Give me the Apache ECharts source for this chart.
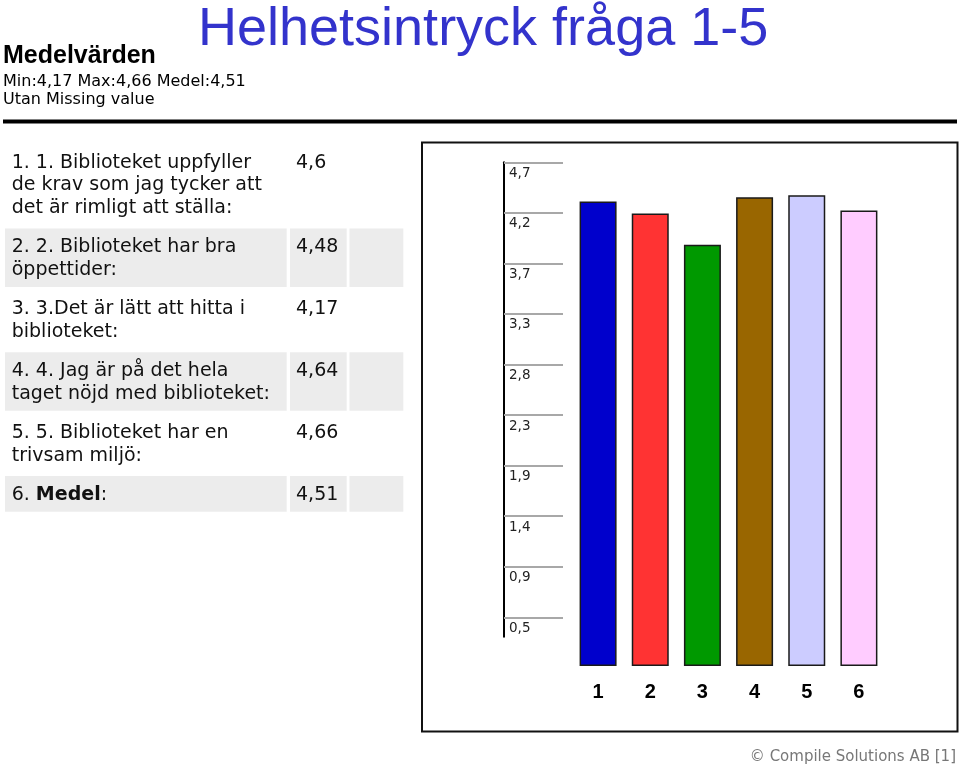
<!DOCTYPE html>
<html><head><meta charset="utf-8">
<script src="https://cdn.jsdelivr.net/npm/echarts@6/dist/echarts.min.js"></script>
<style>html,body{margin:0;padding:0;background:#fff}#c{width:960px;height:769px}</style>
</head><body><div id="c"></div><script>
const titleText = 'Helhetsintryck fråga 1-5';
const subTitle = 'Medelvärden';
const statsLine = 'Min:4,17 Max:4,66 Medel:4,51';
const noteLine = 'Utan Missing value';
const questions = [
  '1. 1. Biblioteket uppfyller\nde krav som jag tycker att\ndet är rimligt att ställa:',
  '2. 2. Biblioteket har bra\nöppettider:',
  '3. 3.Det är lätt att hitta i\nbiblioteket:',
  '4. 4. Jag är på det hela\ntaget nöjd med biblioteket:',
  '5. 5. Biblioteket har en\ntrivsam miljö:',
  '6. {b|Medel}:'
];
const valueLabels = ['4,6', '4,48', '4,17', '4,64', '4,66', '4,51'];
const categories = ['1', '2', '3', '4', '5', '6'];
const values = [4.6, 4.48, 4.17, 4.64, 4.66, 4.51];
const barColors = ['#0000cc', '#ff3333', '#009900', '#996600', '#ccccff', '#ffccff'];
const tickValues = [0.466, 0.932, 1.398, 1.864, 2.33, 2.796, 3.262, 3.728, 4.194, 4.66];
const tickLabels = ['0,5', '0,9', '1,4', '1,9', '2,3', '2,8', '3,3', '3,7', '4,2', '4,7'];
const footerText = '\u00a9 Compile Solutions AB [1]';

const TF = 'DejaVu Sans';
const graphics = [];
// header texts
graphics.push({type:'text', x:198, y:30, style:{text:titleText, fontSize:54, fontFamily:'Liberation Sans', fill:'#3333cc', align:'left', verticalAlign:'middle', textAlign:'left', textVerticalAlign:'middle'}});
graphics.push({type:'text', x:3, y:56.5, style:{text:subTitle, fontSize:25, fontWeight:'bold', fontFamily:'Liberation Sans', fill:'#000', align:'left', verticalAlign:'middle', textAlign:'left', textVerticalAlign:'middle'}});
graphics.push({type:'text', x:3, y:81.5, style:{text:statsLine, fontSize:16, fontFamily:TF, fill:'#000', align:'left', verticalAlign:'middle', textAlign:'left', textVerticalAlign:'middle'}});
graphics.push({type:'text', x:3, y:100, style:{text:noteLine, fontSize:16, fontFamily:TF, fill:'#000', align:'left', verticalAlign:'middle', textAlign:'left', textVerticalAlign:'middle'}});
graphics.push({type:'rect', shape:{x:3, y:119.5, width:954, height:4}, style:{fill:'#000'}});
// chart frame
graphics.push({type:'rect', shape:{x:422, y:142.5, width:535.5, height:589}, style:{fill:'none', stroke:'#111', lineWidth:2}, z:-1});
// table
let rowTop = 143.7;
const LH = 22.8;
questions.forEach((q, i) => {
  const n = q.split('\n').length;
  const h = n * LH + 13;
  if (i % 2 === 1) {
    graphics.push({type:'rect', shape:{x:5, y:rowTop, width:281.7, height:h}, style:{fill:'#ececec'}, z:-2});
    graphics.push({type:'rect', shape:{x:290, y:rowTop, width:56.7, height:h}, style:{fill:'#ececec'}, z:-2});
    graphics.push({type:'rect', shape:{x:349.5, y:rowTop, width:53.8, height:h}, style:{fill:'#ececec'}, z:-2});
  }
  graphics.push({type:'text', x:11.7, y:rowTop + 19 - LH / 2, style:{text:q, fontSize:19, fontFamily:TF, fill:'#111', lineHeight:LH, align:'left', verticalAlign:'top', textAlign:'left', textVerticalAlign:'top', rich:{b:{fontWeight:'bold', fontSize:19, fontFamily:TF, fill:'#111', lineHeight:LH}}}});
  graphics.push({type:'text', x:296, y:rowTop + 19 - LH / 2, style:{text:valueLabels[i], fontSize:19, fontFamily:TF, fill:'#111', lineHeight:LH, align:'left', verticalAlign:'top', textAlign:'left', textVerticalAlign:'top'}});
  rowTop += h + 3.3;
});
graphics.push({type:'text', x:956, y:757, style:{text:footerText, fontSize:15, fontFamily:TF, fill:'#777', align:'right', verticalAlign:'middle', textAlign:'right', textVerticalAlign:'middle'}});

const chart = echarts.init(document.getElementById('c'), null, {renderer:'canvas'});
chart.setOption({
  animation: false,
  backgroundColor: '#fff',
  grid: [
    {left: 572, right: 75, top: 161, bottom: 103},
    {left: 504, width: 80, top: 162.3, bottom: 132.3}
  ],
  xAxis: [
    {type:'category', gridIndex:0, data:categories, axisLine:{show:false}, axisTick:{show:false},
     axisLabel:{fontSize:20, fontWeight:'bold', fontFamily:'Liberation Sans', color:'#000', margin:16}},
    {type:'value', gridIndex:1, show:false, min:0, max:1}
  ],
  yAxis: [
    {type:'value', gridIndex:0, min:0, max:5, show:false},
    {type:'value', gridIndex:1, min:0.287, max:4.66, position:'left',
     axisLine:{show:true, lineStyle:{color:'#000', width:2}},
     axisTick:{show:true, inside:true, length:59, customValues:tickValues, lineStyle:{color:'#a8a8a8', width:2}},
     splitLine:{show:false},
     axisLabel:{show:true, inside:true, margin:5, customValues:tickValues, fontSize:13.5, fontFamily:TF, color:'#222',
       verticalAlign:'top', padding:[4,0,0,0],
       formatter: v => { let bi = 0; tickValues.forEach((t, k) => { if (Math.abs(t - v) < Math.abs(tickValues[bi] - v)) bi = k; }); return tickLabels[bi]; }}
    }
  ],
  series: [{
    type:'bar', xAxisIndex:0, yAxisIndex:0, barWidth:37,
    data: values.map((v, i) => ({value:v, itemStyle:{color:barColors[i]}})),
    itemStyle:{borderColor:'#1a1a1a', borderWidth:1.5}
  }],
  graphic: graphics
});
</script></body></html>
